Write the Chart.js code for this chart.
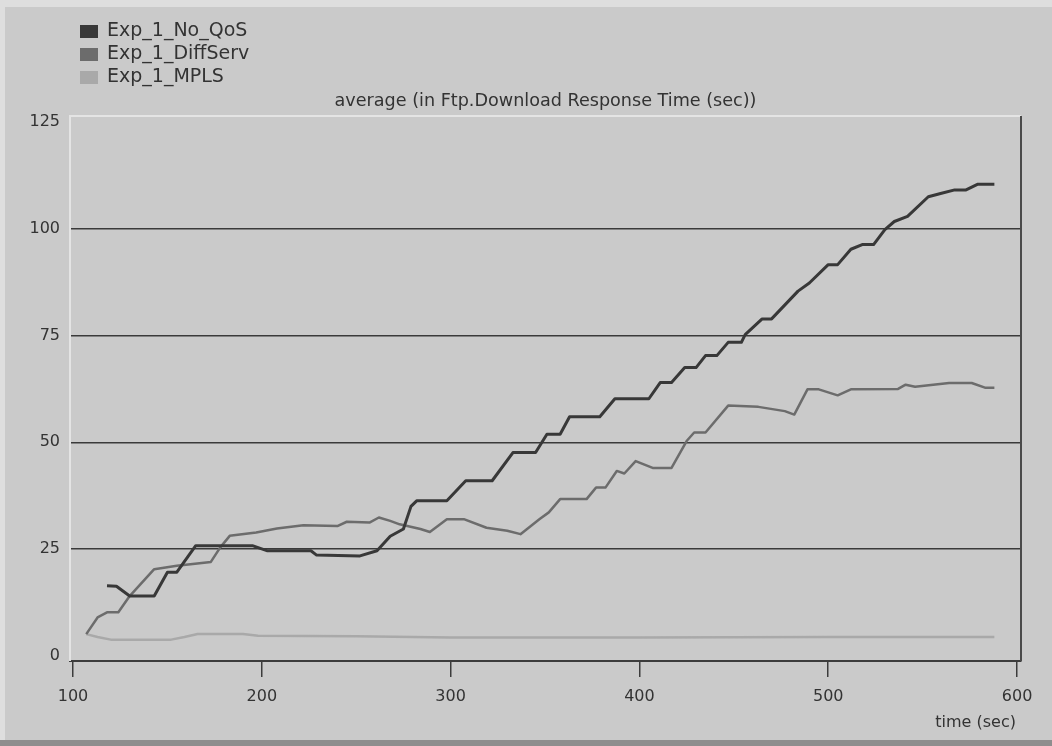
<!DOCTYPE html>
<html>
<head>
<meta charset="utf-8">
<script src="https://cdn.jsdelivr.net/npm/chart.js@4"></script>
<style>
html,body{margin:0;padding:0;background:#cacaca;}
</style>
</head>
<body>
<canvas id="myChart" width="1052" height="746"></canvas>
<script>
// values (time in sec, response time in sec)
const noQosTime = [118,123,130,143,150,155,165,195,203,226,229,252,261,268,275,279,282,298,308,322,333,345,351,358,363,379,387,405,411,417,424,430,435,441,447,454,456,465,470,484,490,500,505,512,518,524,530,535,542,553,560,567,573,579,588];
const noQosValue = [16.4,16.3,14,14,19.6,19.6,25.8,25.8,24.6,24.6,23.6,23.4,24.6,28,29.7,35,36.3,36.3,41,41,47.6,47.6,51.9,51.9,56,56,60.2,60.2,64,64,67.5,67.5,70.3,70.3,73.4,73.4,75.2,78.9,78.9,85.4,87.3,91.6,91.6,95.2,96.3,96.3,99.8,101.7,102.9,107.5,108.3,109.1,109.1,110.4,110.4];

const diffTime = [107,113,118,124,130,143,155,173,178,183,197,208,222,240,245,257,262,268,273,284,289,298,307,319,330,337,347,352,358,372,377,382,388,392,398,407,417,425,429,435,447,463,477,482,489,495,505,512,537,541,546,564,576,583,588];
const diffValue = [5.1,9,10.2,10.2,14,20.3,21.1,22,25.4,28.1,28.9,29.8,30.6,30.4,31.4,31.2,32.4,31.6,30.8,29.7,29,32,32,30,29.3,28.5,32,33.6,36.7,36.7,39.4,39.4,43.3,42.7,45.6,44,44,50.3,52.3,52.3,58.6,58.3,57.3,56.5,62.4,62.4,61,62.4,62.5,63.5,63,63.9,63.9,62.8,62.8];

const mplsTime = [107,113,120,152,159,166,190,198,250,300,400,500,588];
const mplsValue = [5.1,4.4,3.8,3.8,4.4,5.1,5.1,4.7,4.6,4.3,4.3,4.4,4.4];

const seriesNames = ['Exp_1_No_QoS','Exp_1_DiffServ','Exp_1_MPLS'];
const seriesColors = ['#383838','#6c6c6c','#a9a9a9'];
const xTicks = [100,200,300,400,500,600];
const yTicks = [0,25,50,75,100,125];
const chartTitle = 'average (in Ftp.Download Response Time (sec))';
const xTitle = 'time (sec)';

const textColor = '#333333';
const fontFam = '"DejaVu Sans", sans-serif';

function pts(t, v) {
  return t.map((x, i) => ({x: x, y: v[i]}));
}

// background, frame, title, legend
const decor = {
  id: 'decor',
  beforeDraw(chart) {
    const c = chart.ctx;
    c.save();
    c.fillStyle = '#cacaca';
    c.fillRect(0, 0, chart.width, chart.height);
    c.fillStyle = '#dedede';
    c.fillRect(0, 0, chart.width, 7);
    c.fillRect(0, 0, 5, chart.height);
    c.fillStyle = '#8e8e8e';
    c.fillRect(0, 740, chart.width, 6);
    c.restore();
  },
  afterDatasetsDraw(chart) {
    const c = chart.ctx;
    const a = chart.chartArea;
    c.save();
    c.lineWidth = 2;
    c.strokeStyle = '#e4e4e4';
    c.beginPath();
    c.moveTo(a.left, a.bottom);
    c.lineTo(a.left, a.top);
    c.lineTo(a.right, a.top);
    c.stroke();
    c.strokeStyle = '#4a4a4a';
    c.beginPath();
    c.moveTo(a.right, a.top);
    c.lineTo(a.right, a.bottom);
    c.stroke();

    c.fillStyle = textColor;
    c.font = '17.6px ' + fontFam;
    c.textAlign = 'center';
    c.textBaseline = 'middle';
    c.fillText(chartTitle, (a.left + a.right) / 2, 101);

    c.font = '16px ' + fontFam;
    c.textAlign = 'right';
    c.fillText(xTitle, 1016, 723);

    c.font = '19px ' + fontFam;
    c.textAlign = 'left';
    chart.data.datasets.forEach((ds, i) => {
      const y = 31 + i * 23;
      c.fillStyle = ds.borderColor;
      c.fillRect(80, y - 6, 18, 13);
      c.fillStyle = textColor;
      c.fillText(ds.label, 107, y);
    });
    c.restore();
  }
};

const ctx = document.getElementById('myChart');
new Chart(ctx, {
  type: 'line',
  data: {
    datasets: [
      {label: seriesNames[0], data: pts(noQosTime, noQosValue), borderColor: seriesColors[0], borderWidth: 3},
      {label: seriesNames[1], data: pts(diffTime, diffValue), borderColor: seriesColors[1], borderWidth: 2.5},
      {label: seriesNames[2], data: pts(mplsTime, mplsValue), borderColor: seriesColors[2], borderWidth: 2.5}
    ]
  },
  options: {
    responsive: false,
    devicePixelRatio: 1,
    animation: false,
    layout: {padding: {left: 0, top: 116, right: 31, bottom: 0}},
    elements: {
      point: {radius: 0},
      line: {tension: 0, borderJoinStyle: 'round', fill: false}
    },
    plugins: {
      legend: {display: false},
      title: {display: false},
      tooltip: {enabled: false}
    },
    scales: {
      x: {
        type: 'linear',
        min: 98.4,
        max: 602.1,
        afterBuildTicks: s => { s.ticks = xTicks.map(v => ({value: v})); },
        afterFit: s => { s.height = 85; },
        ticks: {color: textColor, font: {family: fontFam, size: 16}, padding: 10, maxRotation: 0},
        grid: {drawOnChartArea: false, drawTicks: true, tickLength: 16, color: '#3c3c3c', lineWidth: 1.5},
        border: {color: '#3c3c3c', width: 2}
      },
      y: {
        min: -1.2,
        max: 126.4,
        afterBuildTicks: s => { s.ticks = yTicks.map(v => ({value: v})); },
        afterFit: s => { s.width = 70; },
        ticks: {color: textColor, font: {family: fontFam, size: 16}, padding: 10},
        grid: {
          drawTicks: false,
          lineWidth: 1.5,
          color: c => (c.tick && c.tick.value > 0 && c.tick.value < 125) ? '#3a3a3a' : 'rgba(0,0,0,0)'
        },
        border: {display: false}
      }
    }
  },
  plugins: [decor]
});
</script>
</body>
</html>
